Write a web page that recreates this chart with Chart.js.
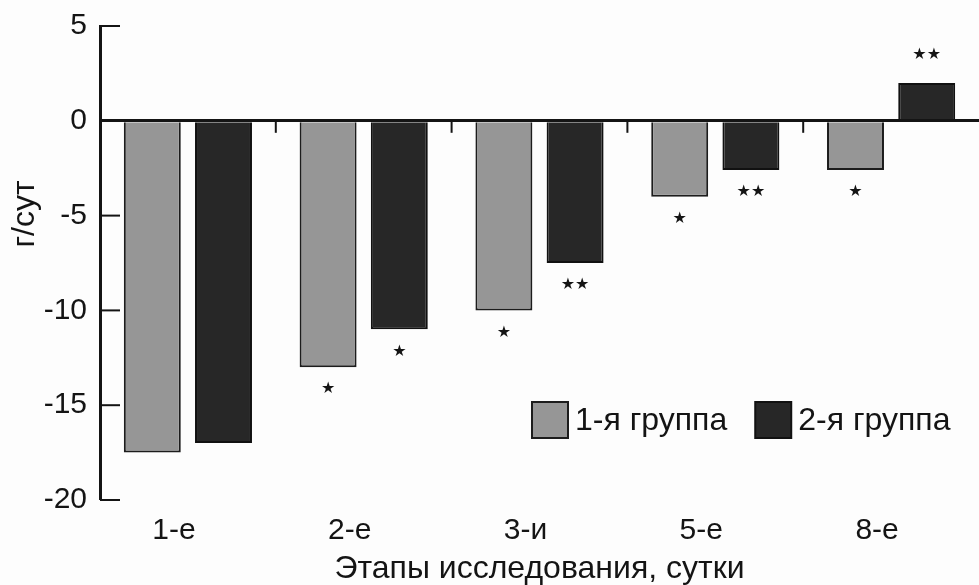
<!DOCTYPE html>
<html lang="ru">
<head>
<meta charset="utf-8">
<title>Этапы исследования</title>
<script src="https://cdn.jsdelivr.net/npm/chart.js@4.4.1/dist/chart.umd.min.js"></script>
<style>
  html, body { margin: 0; padding: 0; background: #fdfdfd; }
  #wrap { width: 979px; height: 585px; position: relative; }
</style>
</head>
<body>
<div id="wrap"><canvas id="chart"></canvas></div>
<script>
(() => {
  'use strict';

  // данные
  const stages = ['1-е', '2-е', '3-и', '5-е', '8-е'];
  const group1 = [-17.5, -13, -10, -4, -2.6];
  const group2 = [-17, -11, -7.5, -2.6, 2];
  const marks1 = ['', '*', '*', '*', '*'];
  const marks2 = ['', '*', '**', '**', '**'];
  const yTicks = [5, 0, -5, -10, -15, -20];

  const FONT = "'Liberation Sans', Arial, sans-serif";
  const INK = '#141414';

  const decor = {
    id: 'decor',
    afterDatasetsDraw(chart) {
      const ctx = chart.ctx;
      ctx.save();
      ctx.fillStyle = INK;
      ctx.font = "16px 'DejaVu Sans'";
      ctx.textAlign = 'center';
      ctx.textBaseline = 'middle';
      chart.data.datasets.forEach((ds, i) => {
        const meta = chart.getDatasetMeta(i);
        meta.data.forEach((bar, j) => {
          const m = ds.marks[j];
          if (!m) return;
          const neg = ds.data[j] < 0;
          const txt = m.replace(/\*/g, '★');
          ctx.fillText(txt, bar.x, bar.y + (neg ? 22 : -28));
        });
      });
      ctx.restore();
    },
    afterDraw(chart) {
      const ctx = chart.ctx;
      const area = chart.chartArea;
      const y = chart.scales.y;
      const x = chart.scales.x;
      ctx.save();
      ctx.strokeStyle = INK;

      // засечки оси Y внутрь
      ctx.lineWidth = 2;
      y.ticks.forEach(t => {
        const py = y.getPixelForValue(t.value);
        ctx.beginPath();
        ctx.moveTo(area.left, py);
        ctx.lineTo(area.left + 20, py);
        ctx.stroke();
      });

      // засечки между этапами на нулевой линии
      const y0 = y.getPixelForValue(0);
      for (let i = 1; i < stages.length; i++) {
        const px = (x.getPixelForTick(i - 1) + x.getPixelForTick(i)) / 2;
        ctx.beginPath();
        ctx.moveTo(px, y0);
        ctx.lineTo(px, y0 + 12);
        ctx.stroke();
      }

      // подпись оси Y
      ctx.fillStyle = INK;
      ctx.font = '32px ' + FONT;
      ctx.textAlign = 'center';
      ctx.textBaseline = 'middle';
      ctx.translate(25, 214);
      ctx.rotate(-Math.PI / 2);
      ctx.fillText('г/сут', 0, 0);
      ctx.setTransform(1, 0, 0, 1, 0, 0);

      // легенда внутри области графика
      let lx = area.left + 432;
      const ly = 420;
      const box = 36;
      ctx.textAlign = 'left';
      ctx.font = '32px ' + FONT;
      chart.data.datasets.forEach(ds => {
        ctx.fillStyle = ds.backgroundColor;
        ctx.fillRect(lx, ly - box / 2, box, box);
        ctx.lineWidth = 2;
        ctx.strokeStyle = ds.borderColor;
        ctx.strokeRect(lx, ly - box / 2, box, box);
        ctx.fillStyle = INK;
        const tx = lx + box + 7;
        ctx.fillText(ds.label, tx, ly + 1);
        lx = tx + ctx.measureText(ds.label).width + 28;
      });
      ctx.restore();
    }
  };

  new Chart(document.getElementById('chart'), {
    type: 'bar',
    data: {
      labels: stages,
      datasets: [
        {
          label: '1-я группа',
          data: group1,
          marks: marks1,
          backgroundColor: '#969696',
          borderColor: '#1c1c1c',
          borderWidth: 2
        },
        {
          label: '2-я группа',
          data: group2,
          marks: marks2,
          backgroundColor: '#272727',
          borderColor: '#111111',
          borderWidth: 2
        }
      ]
    },
    options: {
      responsive: true,
      maintainAspectRatio: false,
      animation: false,
      layout: { padding: { top: 26, right: 0, bottom: 0, left: 0 } },
      datasets: { bar: { categoryPercentage: 0.81, barPercentage: 0.8 } },
      plugins: {
        legend: { display: false },
        tooltip: { enabled: false }
      },
      scales: {
        x: {
          grid: { display: false },
          border: { display: false },
          ticks: {
            color: INK,
            font: { family: FONT, size: 30 },
            padding: 5,
            labelOffset: -14
          },
          title: {
            display: true,
            text: 'Этапы исследования, сутки',
            color: INK,
            font: { family: FONT, size: 32, lineHeight: 1 },
            padding: { top: 0, bottom: 0 }
          },
          afterFit: s => { s.height = 85; }
        },
        y: {
          min: -20,
          max: 5,
          z: 1,
          afterBuildTicks: s => { s.ticks = yTicks.map(v => ({ value: v })); },
          grid: {
            drawTicks: false,
            color: INK,
            lineWidth: c => (c.tick && c.tick.value === 0 ? 3 : 0)
          },
          border: { display: true, color: INK, width: 3 },
          ticks: {
            color: INK,
            font: { family: FONT, size: 30 },
            padding: 13
          },
          afterFit: s => {
            s.width = 100;
            s.paddingTop = 0;
            s.paddingBottom = 0;
          }
        }
      }
    },
    plugins: [decor]
  });
})();
</script>
</body>
</html>
